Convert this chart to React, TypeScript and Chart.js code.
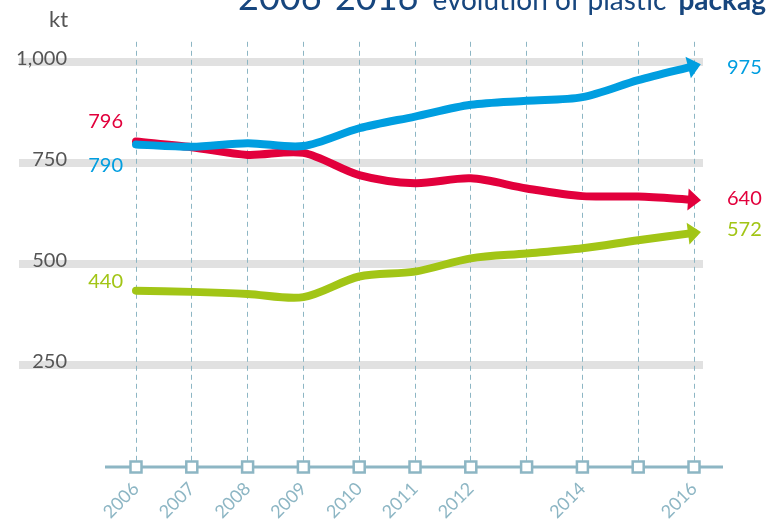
import React, { useEffect, useRef } from 'react';
import { Chart, registerables } from 'chart.js';

Chart.register(...registerables);

// ---- data ----
const years = ['2006', '2007', '2008', '2009', '2010', '2011', '2012', '2013', '2014', '2015', '2016'];
const shownYearLabels = ['2006', '2007', '2008', '2009', '2010', '2011', '2012', '2014', '2016'];
const yTickValues = [250, 500, 750, 1000];
const blueSeries = [796, 790, 799, 792, 836, 865, 894, 904, 913, 955, 990];
const redSeries = [803, 789, 770, 775, 720, 700, 712, 687, 668, 667, 659];
const greenSeries = [434, 431, 426, 418, 469, 481, 514, 526, 539, 559, 577];
const startLabels = ['790', '796', '440'];
const endLabels = ['975', '640', '572'];
const titleParts = ['2006-2016', 'evolution of plastic', 'packaging'];
const unitLabel = 'kt';

// ---- style ----
const COLORS = ['#009ee0', '#e2003c', '#a2c516'];
const AXIS_COLOR = '#8db6c4';
const TEXT_GREY = '#555555';
const TITLE_COLOR = '#17467e';
const FONT = 'Lato, "Open Sans", sans-serif';
const START_LABEL_DY = [21, -20, -9];
const END_LABEL_DY = [2, -1, -3];

const decorPlugin = {
  id: 'decor',
  beforeDraw(chart: any) {
    const { ctx, chartArea, scales } = chart;
    const y = scales.y;
    ctx.save();
    ctx.strokeStyle = '#e1e1e1';
    ctx.lineWidth = 8;
    for (const v of yTickValues) {
      const py = y.getPixelForValue(v);
      ctx.beginPath();
      ctx.moveTo(chartArea.left - 117, py);
      ctx.lineTo(chartArea.right + 9, py);
      ctx.stroke();
    }
    ctx.restore();
  },
  afterDatasetsDraw(chart: any) {
    const { ctx, chartArea, scales } = chart;
    const x = scales.x;
    const y = scales.y;
    ctx.save();
    // axis line
    const axisY = y.getPixelForValue(0) + 1;
    ctx.strokeStyle = AXIS_COLOR;
    ctx.lineWidth = 3;
    ctx.beginPath();
    ctx.moveTo(chartArea.left - 31, axisY);
    ctx.lineTo(chartArea.right + 29, axisY);
    ctx.stroke();
    // square markers
    ctx.lineWidth = 2.5;
    ctx.fillStyle = '#ffffff';
    years.forEach((_, i) => {
      const px = x.getPixelForValue(i);
      ctx.beginPath();
      ctx.rect(px - 5.5, axisY - 5.5, 11, 11);
      ctx.fill();
      ctx.stroke();
    });
    // arrowheads
    chart.data.datasets.forEach((ds: any, i: number) => {
      const meta = chart.getDatasetMeta(i);
      const pts = meta.data;
      const p = pts[pts.length - 1];
      const prev = pts[pts.length - 2];
      let dx = p.x - (p.cp1x ?? prev.x);
      let dy = p.y - (p.cp1y ?? prev.y);
      if (Math.hypot(dx, dy) < 0.5) {
        dx = p.x - prev.x;
        dy = p.y - prev.y;
      }
      const len = Math.hypot(dx, dy);
      dx /= len;
      dy /= len;
      const nx = -dy;
      const ny = dx;
      const tipX = p.x + 7 * dx;
      const tipY = p.y + 7 * dy;
      const bx = p.x - 6 * dx;
      const by = p.y - 6 * dy;
      ctx.fillStyle = ds.borderColor;
      ctx.beginPath();
      ctx.moveTo(tipX, tipY);
      ctx.lineTo(bx + 11 * nx, by + 11 * ny);
      ctx.lineTo(bx - 11 * nx, by - 11 * ny);
      ctx.closePath();
      ctx.fill();
    });
    ctx.restore();
  },
  afterDraw(chart: any) {
    const { ctx } = chart;
    ctx.save();
    // value labels
    ctx.textBaseline = 'middle';
    ctx.font = `20px ${FONT}`;
    chart.data.datasets.forEach((ds: any, i: number) => {
      const pts = chart.getDatasetMeta(i).data;
      const first = pts[0];
      const last = pts[pts.length - 1];
      ctx.fillStyle = ds.borderColor;
      ctx.textAlign = 'right';
      ctx.fillText(startLabels[i], first.x - 13, first.y + START_LABEL_DY[i]);
      ctx.textAlign = 'left';
      ctx.fillText(endLabels[i], last.x + 33, last.y + END_LABEL_DY[i]);
    });
    // unit
    ctx.textBaseline = 'alphabetic';
    ctx.textAlign = 'left';
    ctx.fillStyle = TEXT_GREY;
    ctx.font = `22px ${FONT}`;
    ctx.fillText(unitLabel, 49, 27);
    // title (partly outside the canvas, as in the reference)
    ctx.fillStyle = TITLE_COLOR;
    let tx = 238;
    ctx.font = `36px ${FONT}`;
    ctx.fillText(titleParts[0], tx, 10);
    tx += ctx.measureText(titleParts[0]).width + 14;
    ctx.font = `28px ${FONT}`;
    ctx.fillText(titleParts[1], tx, 10);
    tx += ctx.measureText(titleParts[1]).width + 12;
    ctx.font = `bold 28px ${FONT}`;
    ctx.fillText(titleParts[2], tx, 10);
    ctx.restore();
  },
};

export default function App() {
  const canvasRef = useRef<HTMLCanvasElement | null>(null);

  useEffect(() => {
    if (!canvasRef.current) return;
    const mk = (data: number[], color: string) => ({
      data,
      borderColor: color,
      backgroundColor: color,
      borderWidth: 8,
      borderCapStyle: 'round' as const,
      borderJoinStyle: 'round' as const,
      pointRadius: 0,
      pointHoverRadius: 0,
      tension: 0.3,
      fill: false,
    });
    const chart = new Chart(canvasRef.current, {
      type: 'line',
      data: {
        labels: years,
        datasets: [mk(blueSeries, COLORS[0]), mk(redSeries, COLORS[1]), mk(greenSeries, COLORS[2])],
      },
      options: {
        responsive: false,
        animation: false,
        devicePixelRatio: 1,
        layout: { padding: { top: 41.8, right: 73, bottom: 0, left: 0 } },
        plugins: { legend: { display: false }, tooltip: { enabled: false }, title: { display: false } },
        events: [],
        scales: {
          x: {
            type: 'category',
            offset: false,
            grid: { display: true, color: AXIS_COLOR, lineWidth: 1, drawTicks: true, tickLength: 10, tickColor: 'rgba(0,0,0,0)' },
            border: { display: false, dash: [5, 4] },
            ticks: {
              autoSkip: false,
              minRotation: 45,
              maxRotation: 45,
              padding: 2,
              color: AXIS_COLOR,
              font: { family: FONT, size: 18 },
              callback: (_v: any, i: number) => (shownYearLabels.includes(years[i]) ? years[i] : ''),
            },
            afterFit: (scale: any) => {
              scale.height = 54;
            },
          },
          y: {
            min: 0,
            max: 1050,
            grid: { display: false, drawTicks: true, tickLength: 69 },
            border: { display: false },
            afterBuildTicks: (scale: any) => {
              scale.ticks = yTickValues.map((v) => ({ value: v }));
            },
            ticks: {
              padding: 0,
              color: TEXT_GREY,
              labelOffset: -3,
              font: { family: FONT, size: 20 },
              callback: (v: any) => Number(v).toLocaleString('en-US'),
            },
            afterFit: (scale: any) => {
              scale.width = 136;
            },
          },
        },
      },
      plugins: [decorPlugin],
    });
    return () => chart.destroy();
  }, []);

  return (
    <div style={{ position: 'absolute', left: 0, top: 0, width: 767, height: 520, background: '#ffffff' }}>
      <canvas ref={canvasRef} width={767} height={520} style={{ display: 'block' }} />
    </div>
  );
}
